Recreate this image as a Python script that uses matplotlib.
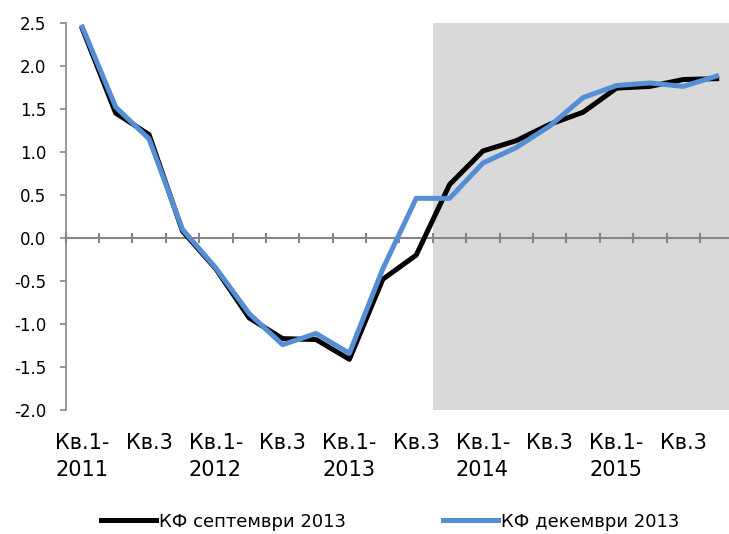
import numpy as np
import matplotlib
matplotlib.use("Agg")
import matplotlib.pyplot as plt
import matplotlib.transforms as mtransforms

# quarters Q1-2011 .. Q4-2015
quarters = np.arange(20)
kf_sept = [2.43, 1.45, 1.20, 0.08, -0.36, -0.93, -1.17, -1.18, -1.41, -0.48,
           -0.20, 0.62, 1.01, 1.13, 1.32, 1.46, 1.74, 1.76, 1.84, 1.85]
kf_dec = [2.45, 1.52, 1.15, 0.10, -0.35, -0.88, -1.24, -1.11, -1.34, -0.36,
          0.46, 0.46, 0.87, 1.05, 1.30, 1.63, 1.77, 1.80, 1.76, 1.88]
tick_labels = ["Кв.1-\n2011", "Кв.3", "Кв.1-\n2012", "Кв.3", "Кв.1-\n2013",
               "Кв.3", "Кв.1-\n2014", "Кв.3", "Кв.1-\n2015", "Кв.3"]
forecast_start = 10.5

fig = plt.figure(figsize=(7.29, 5.34), dpi=100)
ax = fig.add_axes([0.090, 0.232, 0.916, 0.7255])

ax.axvspan(forecast_start, 19.5, color="#d9d9d9", lw=0, zorder=0)
ax.plot(quarters, kf_sept, color="black", lw=3.6, label="КФ септември 2013", zorder=3)
ax.plot(quarters, kf_dec, color="#558ed5", lw=3.6, label="КФ декември 2013", zorder=4)

ax.set_xlim(-0.5, 19.5)
ax.set_ylim(-2.0, 2.5)
ax.set_yticks(np.arange(-2.0, 2.51, 0.5))
ax.set_yticklabels([f"{v:.1f}" for v in np.arange(-2.0, 2.51, 0.5)], fontsize=12)
ax.tick_params(axis="y", direction="out", length=4, color="#868686", width=1.2, pad=10)

for s in ["top", "right", "bottom"]:
    ax.spines[s].set_visible(False)
ax.spines["left"].set_color("#868686")
ax.spines["left"].set_linewidth(1.2)

# category axis at zero with crossing tick marks
ax.axhline(0, color="#868686", lw=1.5, zorder=2)
ax.set_xticks([])
for b in np.arange(-0.5, 19.6, 1.0):
    ax.plot([b, b], [-0.05, 0.05], color="#868686", lw=1.5, zorder=2, clip_on=False)

# category labels every second quarter, below the plot area
trans = mtransforms.blended_transform_factory(ax.transData, ax.transAxes)
for k, lab in enumerate(tick_labels):
    ax.text(quarters[2 * k], -0.058, lab, transform=trans, ha="center", va="top",
            multialignment="left", fontsize=15, linespacing=1.45)

fig.legend(loc="center left", bbox_to_anchor=(0.138, 0.023), ncol=2, frameon=False,
           prop={"size": 13}, handlelength=3.05, handletextpad=0.17,
           columnspacing=5.4, borderpad=0, borderaxespad=0)

fig.savefig("out.png", dpi=100)
